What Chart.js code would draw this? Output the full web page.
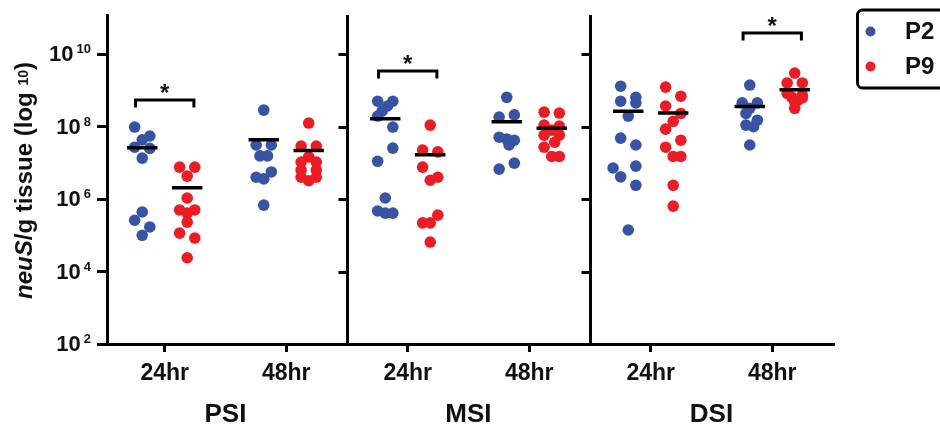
<!DOCTYPE html>
<html>
<head>
<meta charset="utf-8">
<script src="https://cdn.jsdelivr.net/npm/chart.js@4.4.1/dist/chart.umd.min.js"></script>
<style>
  html, body { margin: 0; padding: 0; background: #fff; }
  #wrap { width: 940px; height: 430px; position: relative; }
</style>
</head>
<body>
<div id="wrap"><canvas id="chart"></canvas></div>
<script>
// Categories
const sites = ["PSI", "MSI", "DSI"];
const timepoints = ["24hr", "48hr"];
const strains = ["P2", "P9"];
const yTickValues = [1e2, 1e4, 1e6, 1e8, 1e10];

// neuS copies per g tissue, one list per group:
// PSI 24hr, PSI 48hr, MSI 24hr, MSI 48hr, DSI 24hr, DSI 48hr
const p2Values = [
  [9.7e7, 5.5e7, 4.3e7, 2.7e7, 2.5e7, 1.35e7, 4.4e5, 2.6e5, 1.7e5, 1.0e5],
  [2.85e8, 3.1e7, 3.1e7, 1.55e7, 1.55e7, 5.6e6, 4.0e6, 3.6e6, 6.8e5],
  [5.0e8, 5.0e8, 3.7e8, 2.7e8, 1.95e8, 9.7e7, 2.55e7, 1.1e7, 1.07e6, 4.7e5, 4.1e5, 4.1e5],
  [6.4e8, 1.83e8, 2.1e8, 5.1e7, 4.5e7, 4.2e7, 3.1e7, 9.8e6, 6.7e6],
  [1.3e9, 5.0e8, 6.4e8, 4.5e8, 1.95e8, 4.8e7, 3.1e7, 7.2e6, 8.1e6, 4.1e6, 2.4e6, 1.4e5],
  [1.4e9, 4.5e8, 4.5e8, 3.2e8, 2.3e8, 1.5e8, 1.1e8, 9.9e7, 3.1e7],
];
// scatter-dot column of each point (left -, right +)
const p2Jitter = [
  [-1, 1, 0, -1, 1, 0, 0, -1, 1, 0],
  [0, -1, 1, -0.5, 0.5, 1, -1, 0, 0],
  [-1, 1, 0.3, -0.4, -1, 1, 1, -1, 0, -1, 0, 1],
  [0, -1, 1, -1, 0, 1, 0.3, 1, -1],
  [-1, -1, 1, 1, 0, -1, 1, -2, 1, -1, 1, 0],
  [0, -1, 1, 0, -0.5, 1, -0.5, 0.5, 0],
];

const p9Values = [
  [7.6e6, 7.6e6, 4.3e6, 1.07e6, 5.0e5, 5.0e5, 4.1e5, 2.3e5, 1.15e5, 8.4e4, 2.4e4],
  [1.25e8, 2.9e7, 2.9e7, 1.45e7, 1.05e7, 1.05e7, 6.3e6, 6.3e6, 4.0e6, 4.0e6, 3.2e6],
  [1.1e8, 2.25e7, 2.0e7, 7.6e6, 4.0e6, 3.3e6, 3.6e5, 2.2e5, 2.2e5, 6.5e4],
  [2.5e8, 2.36e8, 1.1e8, 1.03e8, 8.0e7, 5.8e7, 5.8e7, 3.7e7, 2.7e7, 1.5e7, 1.5e7],
  [1.23e9, 6.9e8, 3.7e8, 2.3e8, 1.4e8, 8.5e7, 4.2e7, 2.7e7, 1.5e7, 1.5e7, 2.4e6, 6.4e5],
  [3.0e9, 1.6e9, 1.6e9, 8.3e8, 7.4e8, 6.5e8, 6.2e8, 5.4e8, 4.8e8, 3.2e8],
];
const p9Jitter = [
  [-1, 1, 0, 0, -1, 1, 0, 0, -1, 1, 0],
  [0, -1, 1, 0, -1, 1, -1, 1, -1, 1, 0],
  [0, -1, 1, -1, 1, 0, 1, -1, 0, 0],
  [-1, 1, -1, 1, 0, -1, 1, 0.4, -1, 0, 1],
  [-1, 1, -1, 1, 0, -1, 1, -1, 0, 1, 0, 0],
  [0, -1, 1, -1, 1, -0.4, 1, 0.4, 0, 0],
];

// Significant comparisons (*)
const sigSite = [0, 1, 2];
const sigTime = [0, 0, 1];
const sigHeight = [5.4e8, 3.4e9, 3.8e10];

// Layout helpers
const FONT = "'Liberation Sans', Arial, Helvetica, sans-serif";
const INK = "#111";
const BLUE = "#3653a4";
const RED = "#ec1c24";
const STRAIN_SHIFT = 0.37;
const JITTER_STEP = 0.125;
const MEAN_HALF = 0.25;
const BRACKET_HALF = 0.48;
const BRACKET_DROP = 1.6;
const panelEdges = [4, 8];

function groupCenter(g) {
  return 1 + 4 * Math.floor(g / 2) + 2 * (g % 2);
}

function scatterPoints(values, jitter, shift) {
  const pts = [];
  values.forEach((list, g) => {
    list.forEach((v, i) => {
      pts.push({ x: groupCenter(g) + shift + jitter[g][i] * JITTER_STEP, y: v });
    });
  });
  return pts;
}

function meanLines(values, shift) {
  const pts = [];
  values.forEach((list, g) => {
    const mean = list.reduce((a, b) => a + b, 0) / list.length;
    const cx = groupCenter(g) + shift;
    pts.push({ x: cx - MEAN_HALF, y: mean }, { x: cx + MEAN_HALF, y: mean }, { x: cx, y: null });
  });
  return pts;
}

function bracketLines() {
  const pts = [];
  sigSite.forEach((s, k) => {
    const cx = groupCenter(s * 2 + sigTime[k]);
    const top = sigHeight[k];
    const foot = top / BRACKET_DROP;
    pts.push(
      { x: cx - BRACKET_HALF, y: foot },
      { x: cx - BRACKET_HALF, y: top },
      { x: cx + BRACKET_HALF, y: top },
      { x: cx + BRACKET_HALF, y: foot },
      { x: cx, y: null }
    );
  });
  return pts;
}

// Plugins: tick labels with exponents, y title, panel dividers, stars, legend
const decadeLabels = {
  id: "decadeLabels",
  afterDraw(chart) {
    const { ctx } = chart;
    const y = chart.scales.y;
    const right = y.right - 16;
    ctx.save();
    ctx.fillStyle = INK;
    ctx.textAlign = "right";
    ctx.textBaseline = "alphabetic";
    yTickValues.forEach((v) => {
      const py = y.getPixelForValue(v);
      const exp = String(Math.round(Math.log10(v)));
      ctx.font = `bold 13px ${FONT}`;
      ctx.fillText(exp, right, py - 1);
      const ew = ctx.measureText(exp).width;
      ctx.font = `bold 22px ${FONT}`;
      ctx.fillText("10", right - ew - 3, py + 7);
    });
    ctx.restore();
  },
};

const yTitle = {
  id: "yTitle",
  afterDraw(chart) {
    const { ctx, chartArea } = chart;
    const runs = [
      { text: "neuS", font: `italic bold 24px ${FONT}`, shift: 0 },
      { text: "/g tissue (log ", font: `bold 24px ${FONT}`, shift: 0 },
      { text: "10", font: `bold 14px ${FONT}`, shift: -4 },
      { text: ")", font: `bold 24px ${FONT}`, shift: 0 },
    ];
    ctx.save();
    ctx.translate(32, (chartArea.top + chartArea.bottom) / 2 + 1);
    ctx.rotate(-Math.PI / 2);
    ctx.fillStyle = INK;
    ctx.textBaseline = "alphabetic";
    ctx.textAlign = "left";
    let total = 0;
    runs.forEach((r) => {
      ctx.font = r.font;
      r.w = ctx.measureText(r.text).width;
      total += r.w;
    });
    let x = -total / 2;
    runs.forEach((r) => {
      ctx.font = r.font;
      ctx.fillText(r.text, x, r.shift);
      x += r.w;
    });
    ctx.restore();
  },
};

const panelDividers = {
  id: "panelDividers",
  afterDraw(chart) {
    const { ctx, chartArea } = chart;
    const xs = chart.scales.x;
    const ys = chart.scales.y;
    ctx.save();
    ctx.strokeStyle = "#000";
    ctx.lineWidth = 3;
    panelEdges.forEach((edge) => {
      const px = Math.round(xs.getPixelForValue(edge)) + 0.5;
      ctx.beginPath();
      ctx.moveTo(px, chartArea.top);
      ctx.lineTo(px, chartArea.bottom);
      yTickValues.forEach((v) => {
        const py = Math.round(ys.getPixelForValue(v)) + 0.5;
        ctx.moveTo(px, py);
        ctx.lineTo(px - 9, py);
      });
      ctx.stroke();
    });
    ctx.restore();
  },
};

const sigStars = {
  id: "sigStars",
  afterDraw(chart) {
    const { ctx } = chart;
    const xs = chart.scales.x;
    const ys = chart.scales.y;
    ctx.save();
    ctx.fillStyle = INK;
    ctx.font = `bold 24px ${FONT}`;
    ctx.textAlign = "center";
    ctx.textBaseline = "alphabetic";
    sigSite.forEach((s, k) => {
      const px = xs.getPixelForValue(groupCenter(s * 2 + sigTime[k]));
      const py = ys.getPixelForValue(sigHeight[k]);
      ctx.fillText("*", px, py + 1);
    });
    ctx.restore();
  },
};

const boxLegend = {
  id: "boxLegend",
  afterDraw(chart) {
    const { ctx } = chart;
    const items = chart.data.datasets.filter((d) => strains.includes(d.label));
    ctx.save();
    ctx.strokeStyle = "#000";
    ctx.lineWidth = 3;
    ctx.beginPath();
    ctx.roundRect(857.5, 10, 100, 78, 5);
    ctx.stroke();
    items.forEach((d, i) => {
      const cy = 31.5 + i * 35;
      ctx.fillStyle = d.backgroundColor;
      ctx.beginPath();
      ctx.arc(870.5, cy, 5, 0, Math.PI * 2);
      ctx.fill();
      ctx.fillStyle = INK;
      ctx.font = `bold 24px ${FONT}`;
      ctx.textAlign = "left";
      ctx.textBaseline = "alphabetic";
      ctx.fillText(d.label, 905, cy + 7.5);
    });
    ctx.restore();
  },
};

Chart.defaults.font.family = FONT;
Chart.defaults.color = INK;

new Chart(document.getElementById("chart"), {
  type: "scatter",
  data: {
    datasets: [
      {
        label: "brackets",
        data: bracketLines(),
        showLine: true,
        spanGaps: false,
        borderColor: "#000",
        borderWidth: 3,
        pointRadius: 0,
        order: 0,
      },
      {
        label: "P2 mean",
        data: meanLines(p2Values, -STRAIN_SHIFT),
        showLine: true,
        spanGaps: false,
        borderColor: "#000",
        borderWidth: 3.5,
        pointRadius: 0,
        order: 0,
      },
      {
        label: "P9 mean",
        data: meanLines(p9Values, STRAIN_SHIFT),
        showLine: true,
        spanGaps: false,
        borderColor: "#000",
        borderWidth: 3.5,
        pointRadius: 0,
        order: 0,
      },
      {
        label: "P2",
        data: scatterPoints(p2Values, p2Jitter, -STRAIN_SHIFT),
        backgroundColor: BLUE,
        borderWidth: 0,
        pointRadius: 5.8,
        order: 1,
      },
      {
        label: "P9",
        data: scatterPoints(p9Values, p9Jitter, STRAIN_SHIFT),
        backgroundColor: RED,
        borderWidth: 0,
        pointRadius: 5.8,
        order: 1,
      },
    ],
  },
  options: {
    responsive: true,
    maintainAspectRatio: false,
    animation: false,
    layout: { padding: { top: 15, right: 107, left: 0, bottom: 0 } },
    plugins: {
      legend: { display: false },
      tooltip: { enabled: false },
    },
    scales: {
      x: {
        type: "linear",
        position: "bottom",
        weight: 0,
        min: 0.05,
        max: 12,
        afterBuildTicks: (scale) => {
          scale.ticks = [1, 3, 5, 7, 9, 11].map((v) => ({ value: v }));
        },
        afterFit: (scale) => {
          scale.height = 46;
        },
        ticks: {
          callback: (value) => timepoints[((value - 1) / 2) % 2],
          font: { size: 23, weight: "bold" },
          color: INK,
          padding: 8,
          maxRotation: 0,
          autoSkip: false,
        },
        grid: { drawOnChartArea: false, tickLength: 8, lineWidth: 3, color: "#000" },
        border: { color: "#000", width: 3 },
      },
      xSite: {
        type: "linear",
        position: "bottom",
        weight: 1,
        min: 0.05,
        max: 12,
        afterBuildTicks: (scale) => {
          scale.ticks = [2, 6, 10].map((v) => ({ value: v }));
        },
        afterFit: (scale) => {
          scale.height = 40;
        },
        ticks: {
          callback: (value) => sites[(value - 2) / 4],
          font: { size: 26, weight: "bold" },
          color: INK,
          padding: 1,
          maxRotation: 0,
          autoSkip: false,
        },
        grid: { display: false },
        border: { display: false },
      },
      y: {
        type: "logarithmic",
        position: "left",
        min: 100,
        max: 1.2e11,
        afterBuildTicks: (scale) => {
          scale.ticks = yTickValues.map((v) => ({ value: v }));
        },
        afterFit: (scale) => {
          scale.width = 107;
        },
        ticks: { display: false },
        grid: { drawOnChartArea: false, tickLength: 10, lineWidth: 3, color: "#000" },
        border: { color: "#000", width: 3 },
      },
    },
  },
  plugins: [panelDividers, decadeLabels, yTitle, sigStars, boxLegend],
});
</script>
</body>
</html>
